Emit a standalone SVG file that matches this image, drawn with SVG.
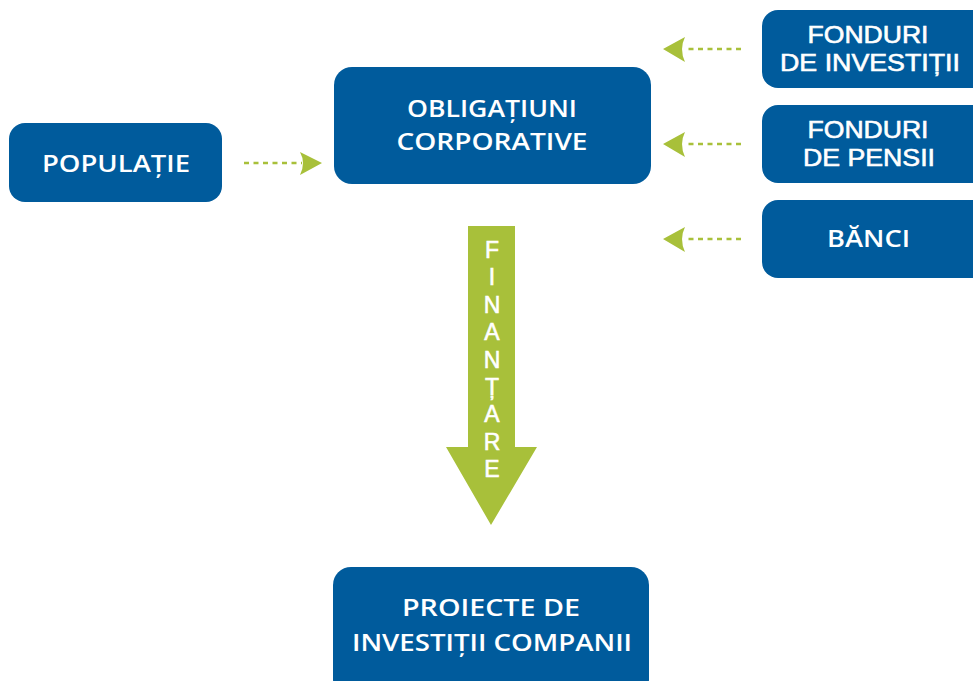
<svg xmlns="http://www.w3.org/2000/svg" width="973" height="681" viewBox="0 0 973 681">
<style>
.box{fill:#005b9c}
.t{fill:#fff;font-family:"Open Sans","Liberation Sans",sans-serif;font-weight:600;font-size:24px;text-anchor:middle}
.r{fill:#fff;stroke:#fff;stroke-width:0.6;font-family:"Liberation Sans",Arial,sans-serif;font-size:24px;text-anchor:middle}
.v{fill:#fff;stroke:#fff;stroke-width:0.6;font-family:"Liberation Sans",Arial,sans-serif;font-size:23px;text-anchor:middle}
.dash{stroke:#a8c03a;stroke-width:2.5;stroke-dasharray:5 4.5;fill:none}
.head{fill:#a8c03a}
</style>
<rect width="973" height="681" fill="#fff"/>
<g id="connectors">
<line class="dash" x1="244" y1="163" x2="302" y2="163"/>
<path class="head" d="M322,163 L300,152 Q306,163 300,175 Z"/>
<line class="dash" x1="741" y1="49" x2="684" y2="49"/>
<path class="head" d="M663,49 L685,37 Q679,49 685,62 Z"/>
<line class="dash" x1="741" y1="144" x2="684" y2="144"/>
<path class="head" d="M663,144 L685,132 Q679,144 685,157 Z"/>
<line class="dash" x1="741" y1="239" x2="684" y2="239"/>
<path class="head" d="M663,239 L685,227 Q679,239 685,252 Z"/>
</g>
<g id="finantare">
<polygon points="468,226 515,226 515,447 537,447 491,525 446,447 468,447" fill="#a8c03a"/>
<text class="v" x="492" y="258">F</text>
<text class="v" x="492" y="285.4">I</text>
<text class="v" x="492" y="312.8">N</text>
<text class="v" x="492" y="340.2">A</text>
<text class="v" x="492" y="367.6">N</text>
<text class="v" x="492" y="395">Ț</text>
<text class="v" x="492" y="422.4">A</text>
<text class="v" x="492" y="449.8">R</text>
<text class="v" x="492" y="477.2">E</text>
</g>
<g id="populatie">
<rect class="box" x="9" y="123" width="213" height="79" rx="16"/>
<text class="t" x="116" y="172" textLength="148" lengthAdjust="spacingAndGlyphs">POPULAȚIE</text>
</g>
<g id="obligatiuni">
<rect class="box" x="334" y="67" width="317" height="117" rx="18"/>
<text class="t"><tspan x="492" y="117" textLength="170" lengthAdjust="spacingAndGlyphs">OBLIGAȚIUNI</tspan><tspan x="492" y="150" textLength="191" lengthAdjust="spacingAndGlyphs">CORPORATIVE</tspan></text>
</g>
<g id="fonduri-investitii">
<rect class="box" x="762" y="10" width="230" height="78" rx="16"/>
<text class="r" x="868" y="43" textLength="121" lengthAdjust="spacingAndGlyphs">FONDURI</text>
<text class="r" x="870" y="71" textLength="180" lengthAdjust="spacingAndGlyphs">DE INVESTIȚII</text>
</g>
<g id="fonduri-pensii">
<rect class="box" x="762" y="105" width="230" height="78" rx="16"/>
<text class="r" x="868" y="138" textLength="121" lengthAdjust="spacingAndGlyphs">FONDURI</text>
<text class="r" x="869" y="166" textLength="132" lengthAdjust="spacingAndGlyphs">DE PENSII</text>
</g>
<g id="banci">
<rect class="box" x="762" y="200" width="230" height="78" rx="16"/>
<text class="t" x="868.5" y="247" textLength="83" lengthAdjust="spacingAndGlyphs">BĂNCI</text>
</g>
<g id="proiecte">
<rect class="box" x="333" y="567" width="316" height="130" rx="18"/>
<text class="t"><tspan x="491" y="616" textLength="178" lengthAdjust="spacingAndGlyphs">PROIECTE DE</tspan><tspan x="492" y="651" textLength="280" lengthAdjust="spacingAndGlyphs">INVESTIȚII COMPANII</tspan></text>
</g>
</svg>
